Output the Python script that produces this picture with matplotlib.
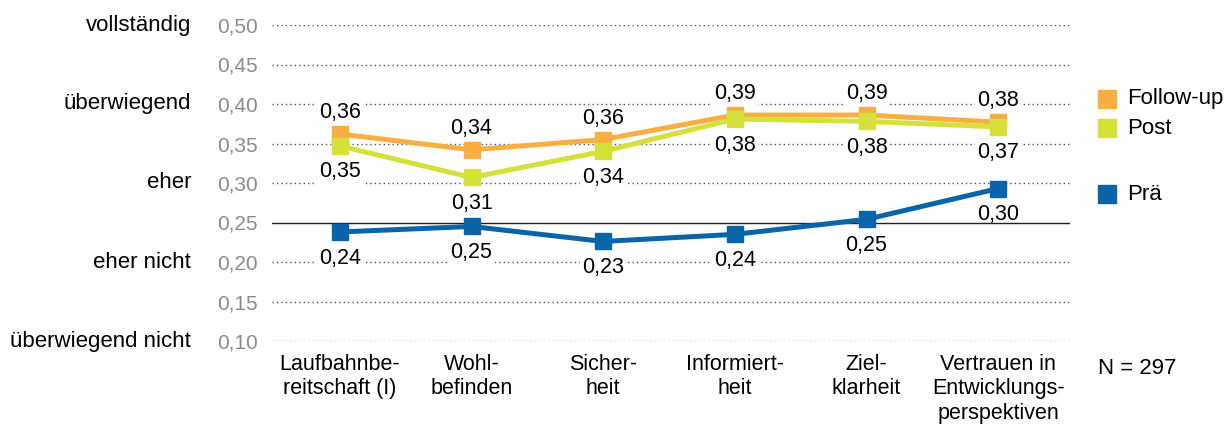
import numpy as np
import matplotlib as mpl
mpl.use("Agg")
import matplotlib.pyplot as plt
from matplotlib.transforms import blended_transform_factory

mpl.rcParams['font.family'] = ['Liberation Sans', 'DejaVu Sans']
mpl.rcParams['font.size'] = 15.5

# ---------------- data ----------------
categories = ["Laufbahnbe-\nreitschaft (I)", "Wohl-\nbefinden", "Sicher-\nheit",
              "Informiert-\nheit", "Ziel-\nklarheit",
              "Vertrauen in\nEntwicklungs-\nperspektiven"]
follow_up = [0.362, 0.342, 0.355, 0.386, 0.386, 0.377]
post = [0.347, 0.307, 0.340, 0.381, 0.378, 0.371]
prae = [0.238, 0.245, 0.226, 0.235, 0.254, 0.293]
follow_up_lbl = ["0,36", "0,34", "0,36", "0,39", "0,39", "0,38"]
post_lbl = ["0,35", "0,31", "0,34", "0,38", "0,38", "0,37"]
prae_lbl = ["0,24", "0,25", "0,23", "0,24", "0,25", "0,30"]
y_ticks = [0.10, 0.15, 0.20, 0.25, 0.30, 0.35, 0.40, 0.45, 0.50]
scale_pos = [0.50, 0.40, 0.30, 0.20, 0.10]
scale_lbl = ["vollständig", "überwiegend", "eher", "eher nicht", "überwiegend nicht"]

C_FU = "#F9AE42"
C_POST = "#D5E03B"
C_PRAE = "#0A64A8"

W, H = 1227, 425
fig = plt.figure(figsize=(W / 100, H / 100), dpi=100)
ax = fig.add_axes([272 / W, 1 - 341 / H, (1070 - 272) / W, (341 - 25) / H])

x = np.arange(len(categories))
ax.set_xlim(-0.515, 5.545)
ax.set_ylim(0.10, 0.50)

# grid
for yv in y_ticks:
    if abs(yv - 0.25) < 1e-9:
        ax.axhline(yv, color="#222222", lw=1.0, zorder=2.5)
    else:
        ax.axhline(yv, color="#555555", lw=1.0, ls=(0, (1, 2.2)), zorder=1)

lw = 3.6
ms = 11.5
ax.plot(x, prae, color=C_PRAE, lw=lw, marker="s", ms=ms, zorder=3)
ax.plot(x, post, color=C_POST, lw=lw, marker="s", ms=ms, zorder=4)
ax.plot(x, follow_up, color=C_FU, lw=lw, marker="s", ms=ms, zorder=3.5)

bb = dict(facecolor="white", edgecolor="none", pad=1.5)
for xi, v, t in zip(x, follow_up, follow_up_lbl):
    ax.text(xi, v + 0.027, t, ha="center", va="center", bbox=bb, zorder=2)
for xi, v, t in zip(x, post, post_lbl):
    ax.text(xi, v - 0.033, t, ha="center", va="center", bbox=bb, zorder=2)
for xi, v, t in zip(x, prae, prae_lbl):
    ax.text(xi, v - 0.033, t, ha="center", va="center", bbox=bb, zorder=2)

ax.set_yticks(y_ticks)
ax.set_yticklabels([f"{v:.2f}".replace(".", ",") for v in y_ticks], color="#8c8c8c",
                   fontsize=15)
ax.set_xticks(x)
ax.set_xticklabels(categories, linespacing=1.22)
ax.tick_params(axis="y", length=0, pad=10)
ax.tick_params(axis="x", length=0, pad=9)
for s in ax.spines.values():
    s.set_visible(False)

tr = blended_transform_factory(fig.transFigure, ax.transData)
for yv, t in zip(scale_pos, scale_lbl):
    ax.text(191 / W, yv, t, transform=tr, ha="right", va="center", fontsize=16)

# legend (manual)
leg = [("Follow-up", C_FU, 98.5), ("Post", C_POST, 128), ("Prä", C_PRAE, 194)]
for name, c, yp in leg:
    fig.patches.append(mpl.patches.Rectangle((1098 / W, 1 - (yp + 9) / H), 18 / W, 18 / H,
                                             transform=fig.transFigure, color=c))
    fig.text(1127 / W, 1 - yp / H, name, ha="left", va="center", fontsize=16)

fig.text(1098 / W, 1 - 369 / H, "N = 297", ha="left", va="center", fontsize=16)

fig.savefig("out.png", dpi=100)
